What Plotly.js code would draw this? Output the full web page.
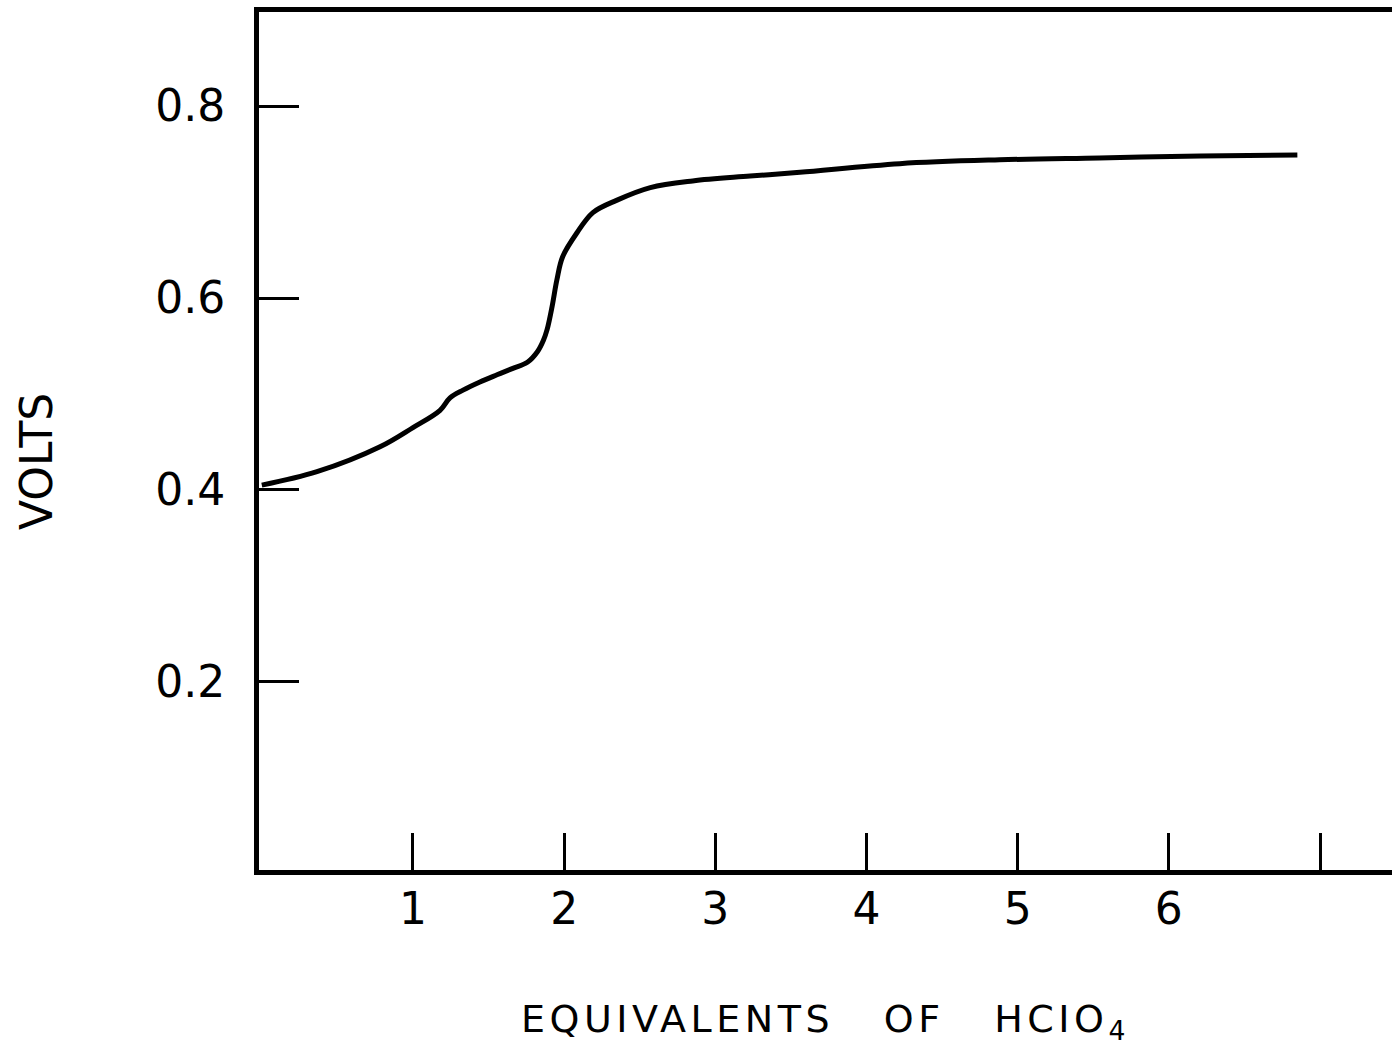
<!DOCTYPE html>
<html>
<head>
<meta charset="utf-8">
<script src="https://cdn.plot.ly/plotly-3.0.1.min.js"></script>
<style>
  html, body { margin: 0; padding: 0; background: #fff; }
  #chart { width: 1392px; height: 1056px; }
  .g-xtitle text { letter-spacing: 4.5px; }
</style>
</head>
<body>
<div id="chart"></div>
<script>
// Equivalents of HClO4 added (x) vs potential in volts (y)
const equivalents = [0, 0.365, 0.782, 1.0, 1.179, 1.245, 1.331, 1.443, 1.556, 1.665, 1.757, 1.823, 1.863, 1.887, 1.92, 1.952, 1.99, 2.085, 2.19, 2.35, 2.57, 2.85, 3.23, 3.56, 4.22, 4.88, 5.54, 6.21, 6.85];
const volts       = [0.405, 0.419, 0.445, 0.465, 0.483, 0.496, 0.504, 0.5125, 0.520, 0.527, 0.533, 0.544, 0.556, 0.567, 0.591, 0.619, 0.643, 0.668, 0.689, 0.702, 0.715, 0.722, 0.727, 0.731, 0.740, 0.744, 0.746, 0.748, 0.749];

const xTickVals = [1, 2, 3, 4, 5, 6];
const xTickText = ['1', '2', '3', '4', '5', '6'];
const xUnlabeledTicks = [7];
const yTickVals = [0.2, 0.4, 0.6, 0.8];
const yTickText = ['0.2', '0.4', '0.6', '0.8'];

const FONT = '"DejaVu Sans", "Liberation Sans", sans-serif';

const trace = {
  x: equivalents,
  y: volts,
  type: 'scatter',
  mode: 'lines',
  line: { color: '#000', width: 5, shape: 'spline', smoothing: 1.0 },
  hoverinfo: 'skip'
};

const layout = {
  width: 1392,
  height: 1056,
  margin: { l: 259, r: 0, t: 12, b: 186 },
  paper_bgcolor: '#fff',
  plot_bgcolor: '#fff',
  showlegend: false,
  font: { family: FONT, color: '#000' },
  xaxis: {
    range: [-0.0185, 7.476],
    showgrid: false,
    zeroline: false,
    showline: true,
    linecolor: '#000',
    linewidth: 5,
    mirror: true,
    ticks: 'inside',
    ticklen: 37,
    tickwidth: 3,
    tickcolor: '#000',
    tickmode: 'array',
    tickvals: xTickVals,
    ticktext: xTickText,
    tickfont: { family: FONT, size: 44, color: '#000' },
    ticklabelstandoff: -4,
    minor: {
      tickmode: 'array',
      tickvals: xUnlabeledTicks,
      ticks: 'inside',
      ticklen: 37,
      tickwidth: 3,
      tickcolor: '#000',
      showgrid: false
    },
    title: {
      text: 'EQUIVALENTS   OF   HCIO<sub>4</sub>',
      font: { family: FONT, size: 38, color: '#000' },
      standoff: 74
    }
  },
  yaxis: {
    range: [0.004, 0.898],
    showgrid: false,
    zeroline: false,
    showline: true,
    linecolor: '#000',
    linewidth: 5,
    ticks: 'inside',
    ticklen: 40,
    tickwidth: 3,
    tickcolor: '#000',
    tickmode: 'array',
    tickvals: yTickVals,
    ticktext: yTickText,
    tickfont: { family: FONT, size: 44, color: '#000' },
    ticklabelstandoff: 20
  },
  annotations: [{
    text: 'VOLTS',
    xref: 'paper', yref: 'paper',
    x: (36 - 259) / 1133, y: (870 - 462) / 858,
    xanchor: 'center', yanchor: 'middle',
    textangle: -90,
    showarrow: false,
    font: { family: FONT, size: 44, color: '#000' }
  }]
};

Plotly.newPlot('chart', [trace], layout, { displayModeBar: false, staticPlot: true });
</script>
</body>
</html>
